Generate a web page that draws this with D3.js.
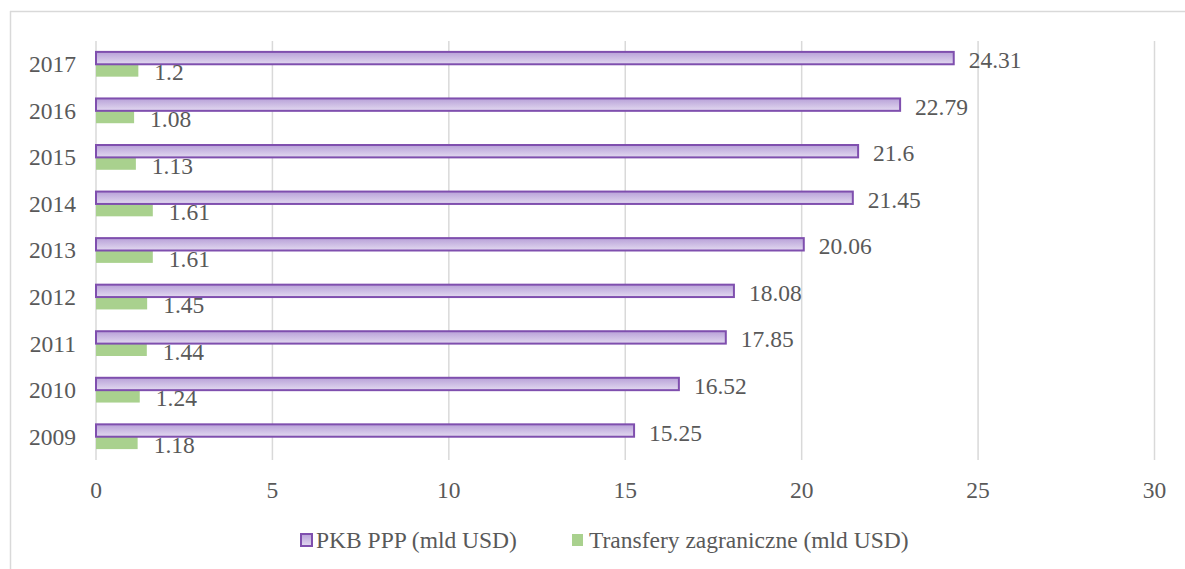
<!DOCTYPE html>
<html>
<head>
<meta charset="utf-8">
<script src="https://cdn.jsdelivr.net/npm/d3@7"></script>
<style>
  html, body { margin: 0; padding: 0; background: #fff; }
  svg { display: block; }
</style>
</head>
<body>
<svg id="chart" width="1185" height="569"></svg>
<script>
const years = ["2017", "2016", "2015", "2014", "2013", "2012", "2011", "2010", "2009"];
const pkbValues = [24.31, 22.79, 21.6, 21.45, 20.06, 18.08, 17.85, 16.52, 15.25];
const transferValues = [1.2, 1.08, 1.13, 1.61, 1.61, 1.45, 1.44, 1.24, 1.18];
const xTicks = [0, 5, 10, 15, 20, 25, 30];
const seriesNames = ["PKB PPP (mld USD)", "Transfery zagraniczne (mld USD)"];

const svg = d3.select("#chart")
  .attr("font-family", "'Liberation Serif', 'Times New Roman', 'DejaVu Serif', serif")
  .attr("fill", "#595959");
const W = 1185, H = 569;
const fs = 23.5;

// defs: gradient for purple bars
const defs = svg.append("defs");
const grad = defs.append("linearGradient").attr("id", "purpleGrad")
  .attr("x1", 0).attr("y1", 0).attr("x2", 0).attr("y2", 1);
grad.append("stop").attr("offset", "0%").attr("stop-color", "#b8a1d8");
grad.append("stop").attr("offset", "100%").attr("stop-color", "#e2d9f0");

// chart frame (only top and left visible)
svg.append("line").attr("x1", 10).attr("x2", W).attr("y1", 11.5).attr("y2", 11.5)
  .attr("stroke", "#d9d9d9").attr("stroke-width", 1.5);
svg.append("line").attr("x1", 10.5).attr("x2", 10.5).attr("y1", 11).attr("y2", H)
  .attr("stroke", "#d9d9d9").attr("stroke-width", 1.5);

const plotTop = 41, plotBottom = 460;
const x = d3.scaleLinear().domain([0, 30]).range([96, 1154.5]);
const y = d3.scaleBand().domain(years).range([plotTop, plotBottom]).padding(0);

// gridlines
svg.append("g").selectAll("line").data(xTicks).join("line")
  .attr("x1", d => x(d)).attr("x2", d => x(d))
  .attr("y1", plotTop).attr("y2", plotBottom)
  .attr("stroke", "#d9d9d9").attr("stroke-width", 1.5);

// x tick labels
svg.append("g").selectAll("text").data(xTicks).join("text")
  .attr("x", d => x(d)).attr("y", 498)
  .attr("text-anchor", "middle").attr("font-size", fs)
  .text(d => d);

// y labels
svg.append("g").selectAll("text").data(years).join("text")
  .attr("x", 76).attr("y", d => y(d) + y.bandwidth() / 2)
  .attr("dy", "0.34em")
  .attr("text-anchor", "end").attr("font-size", fs)
  .text(d => d);

const h = y.bandwidth() * 0.266;

// green bars
svg.append("g").selectAll("rect").data(years).join("rect")
  .attr("x", x(0))
  .attr("y", d => y(d) + y.bandwidth() / 2)
  .attr("width", (d, i) => x(transferValues[i]) - x(0))
  .attr("height", h)
  .attr("fill", "#a9d18e");

// purple bars
svg.append("g").selectAll("rect").data(years).join("rect")
  .attr("x", x(0))
  .attr("y", d => y(d) + y.bandwidth() / 2 - h)
  .attr("width", (d, i) => x(pkbValues[i]) - x(0))
  .attr("height", h)
  .attr("fill", "url(#purpleGrad)")
  .attr("stroke", "#7f4fae").attr("stroke-width", 2);

// data labels
svg.append("g").selectAll("text").data(years).join("text")
  .attr("x", (d, i) => x(pkbValues[i]) + 15)
  .attr("y", d => y(d) + y.bandwidth() / 2 - h / 2 + 2)
  .attr("dy", "0.34em").attr("font-size", fs)
  .text((d, i) => pkbValues[i]);

svg.append("g").selectAll("text").data(years).join("text")
  .attr("x", (d, i) => x(transferValues[i]) + 16)
  .attr("y", d => y(d) + y.bandwidth() / 2 + h / 2 + 2)
  .attr("dy", "0.34em").attr("font-size", fs)
  .text((d, i) => transferValues[i]);

// legend
const legend = svg.append("g");
const lg = [
  { name: seriesNames[0], mx: 300, tx: 316, fill: "url(#purpleGrad)", stroke: "#7f4fae" },
  { name: seriesNames[1], mx: 571, tx: 589, fill: "#a9d18e", stroke: "none" }
];
lg.forEach(l => {
  legend.append("rect").attr("x", l.mx + 1).attr("y", 534).attr("width", 11).attr("height", 12)
    .attr("fill", l.fill).attr("stroke", l.stroke).attr("stroke-width", 2);
  legend.append("text").attr("x", l.tx).attr("y", 548).attr("font-size", fs).text(l.name);
});
</script>
</body>
</html>
